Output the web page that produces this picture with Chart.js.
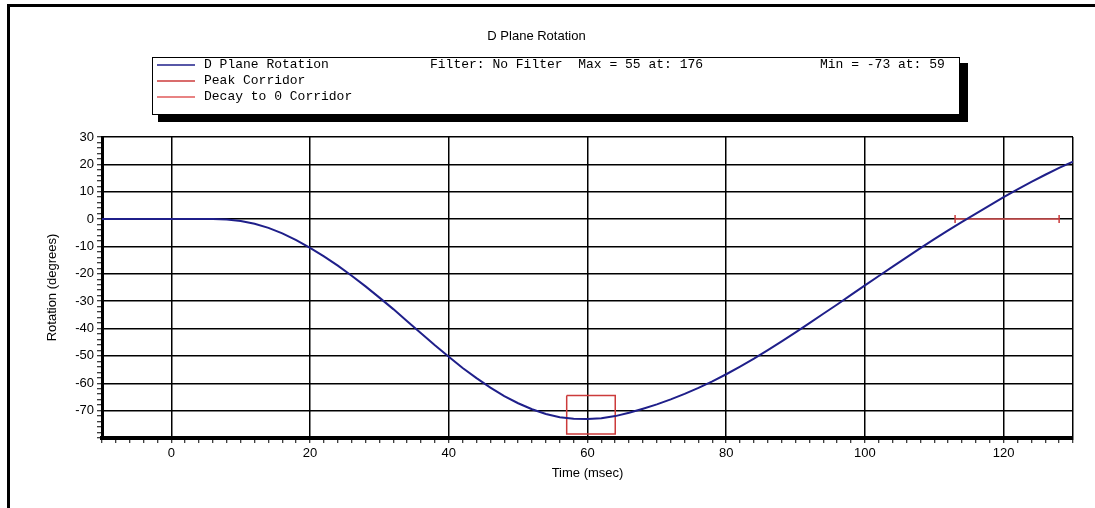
<!DOCTYPE html>
<html lang="en">
<head>
  <meta charset="UTF-8">
  <title>D Plane Rotation</title>
  <script src="https://cdn.jsdelivr.net/npm/chart.js"></script>
  <style>
    html, body { margin: 0; padding: 0; background: #fff; }
  </style>
</head>
<body>

  <canvas id="rotationChart" width="1095" height="508"></canvas>

  <script>
    // D Plane Rotation trace (msec / degrees)
    var timeMs = [-10, 0, 6, 8, 10, 12, 14, 16, 18, 20, 22, 24, 26, 28, 30, 32, 34, 36, 38, 40,
      42, 44, 46, 48, 50, 52, 54, 56, 58, 60, 62, 64, 66, 68, 70, 72, 74, 76, 78, 80,
      82, 84, 86, 88, 90, 92, 94, 96, 98, 100, 102, 104, 106, 108, 110, 112, 114, 116, 118, 120,
      122, 124, 126, 128, 130];
    var rotationDeg = [0, 0, 0, -0.15, -0.7, -1.7, -3.2, -5.2, -7.7, -10.5, -13.6, -17.0, -20.7, -24.6, -28.7, -32.9, -37.3, -41.7, -46.1, -50.3,
      -54.4, -58.1, -61.6, -64.7, -67.3, -69.5, -71.2, -72.4, -73.0, -73.1, -72.8, -72.0, -70.8, -69.3, -67.7, -65.9, -63.9, -61.7, -59.3, -56.7,
      -53.9, -51.0, -47.9, -44.7, -41.4, -38.0, -34.6, -31.2, -27.7, -24.2, -20.8, -17.4, -14.0, -10.6, -7.3, -4.1, -1.0, 2.0, 5.0, 8.0,
      10.9, 13.6, 16.2, 18.7, 21.0];

    // corridors
    var peakCorridorX = [57, 64, 64, 57, 57];
    var peakCorridorY = [-64.5, -64.5, -78.5, -78.5, -64.5];
    var decayCorridorX = [113, 128];
    var decayCorridorY = [0, 0];

    // labelled ticks
    var xTickLabels = [0, 20, 40, 60, 80, 100, 120];
    var yTickLabels = [30, 20, 10, 0, -10, -20, -30, -40, -50, -60, -70];

    // text shown in the legend box
    var seriesNames = ['D Plane Rotation', 'Peak Corridor', 'Decay to 0 Corridor'];
    var legendStats = ['Filter: No Filter  Max = 55 at: 176', 'Min = -73 at: 59'];

    function toPoints(xs, ys) {
      var pts = [];
      for (var i = 0; i < xs.length; i++) {
        pts.push({ x: xs[i], y: ys[i] });
      }
      return pts;
    }

    var sansFont = 'Liberation Sans, Arial, sans-serif';

    var frameAndLegend = {
      id: 'frameAndLegend',
      beforeDraw: function(chart) {
        var ctx = chart.ctx;
        ctx.save();
        ctx.fillStyle = '#fff';
        ctx.fillRect(0, 0, chart.width, chart.height);
        ctx.strokeStyle = '#000';
        ctx.lineWidth = 3;
        ctx.beginPath();
        ctx.moveTo(8.5, chart.height);
        ctx.lineTo(8.5, 5.5);
        ctx.lineTo(chart.width, 5.5);
        ctx.stroke();
        ctx.restore();
      },
      afterDraw: function(chart) {
        var ctx = chart.ctx;
        var sets = chart.data.datasets;
        ctx.save();
        // box with drop shadow
        ctx.fillStyle = '#000';
        ctx.fillRect(158, 63, 810, 59);
        ctx.fillStyle = '#fff';
        ctx.fillRect(152, 57, 808, 58);
        ctx.strokeStyle = '#000';
        ctx.lineWidth = 1;
        ctx.strokeRect(152.5, 57.5, 807, 57);

        var rows = [65, 81, 97];
        ctx.font = '13px "Liberation Mono", monospace';
        ctx.textBaseline = 'middle';
        for (var i = 0; i < sets.length; i++) {
          ctx.strokeStyle = sets[i].borderColor;
          ctx.lineWidth = 1.5;
          ctx.beginPath();
          ctx.moveTo(157, rows[i]);
          ctx.lineTo(195, rows[i]);
          ctx.stroke();
          ctx.fillStyle = '#000';
          ctx.fillText(sets[i].label, 204, rows[i]);
        }
        ctx.fillText(legendStats[0], 430, rows[0]);
        ctx.fillText(legendStats[1], 820, rows[0]);
        ctx.restore();
      }
    };

    var ctx = document.getElementById('rotationChart').getContext('2d');

    new Chart(ctx, {
      type: 'line',
      data: {
        datasets: [
          {
            label: seriesNames[0],
            data: toPoints(timeMs, rotationDeg),
            borderColor: '#1f1f8a',
            borderWidth: 2,
            pointRadius: 0,
            tension: 0
          },
          {
            label: seriesNames[1],
            data: toPoints(peakCorridorX, peakCorridorY),
            borderColor: '#cc3b3b',
            borderWidth: 1.5,
            pointRadius: 0
          },
          {
            label: seriesNames[2],
            data: toPoints(decayCorridorX, decayCorridorY),
            borderColor: '#e05a5a',
            borderWidth: 1.5,
            pointStyle: 'line',
            rotation: 90,
            pointRadius: 4,
            pointBorderColor: '#cc3b3b',
            pointBorderWidth: 1.5
          }
        ]
      },
      options: {
        responsive: false,
        animation: false,
        devicePixelRatio: 1,
        layout: { padding: { left: 0, right: 22, top: 0, bottom: 0 } },
        plugins: {
          legend: { display: false },
          tooltip: { enabled: false },
          title: {
            display: true,
            text: 'D Plane Rotation',
            color: '#000',
            font: { family: sansFont, size: 13, weight: 'normal' },
            padding: { top: 29, bottom: 92.4 }
          }
        },
        scales: {
          x: {
            type: 'linear',
            min: -10,
            max: 130,
            afterFit: function(s) { s.height = 70; },
            border: { color: '#000', width: 4 },
            grid: {
              color: function(c) {
                if (!c.tick) return 'rgba(0,0,0,0)';
                var v = c.tick.value;
                return (xTickLabels.indexOf(v) >= 0 || v === 130) ? '#000' : 'rgba(0,0,0,0)';
              },
              lineWidth: 1.5,
              tickColor: '#000',
              tickWidth: 1,
              tickLength: 5
            },
            ticks: {
              stepSize: 2,
              autoSkip: false,
              maxRotation: 0,
              padding: 3,
              color: '#000',
              font: { family: sansFont, size: 13 },
              callback: function(v) { return xTickLabels.indexOf(v) >= 0 ? String(v) : ''; }
            },
            title: {
              display: true,
              text: 'Time (msec)',
              color: '#000',
              font: { family: sansFont, size: 13 },
              padding: { top: 0, bottom: 27 }
            }
          },
          y: {
            type: 'linear',
            min: -80,
            max: 30,
            afterFit: function(s) { s.width = 102; },
            border: { color: '#000', width: 3 },
            grid: {
              color: function(c) {
                if (!c.tick) return 'rgba(0,0,0,0)';
                return c.tick.value % 10 === 0 ? '#000' : 'rgba(0,0,0,0)';
              },
              lineWidth: 1.5,
              tickColor: '#000',
              tickWidth: 1,
              tickLength: 5
            },
            ticks: {
              stepSize: 2,
              autoSkip: false,
              padding: 3,
              color: '#000',
              font: { family: sansFont, size: 13 },
              callback: function(v) { return yTickLabels.indexOf(v) >= 0 ? String(v) : ''; }
            },
            title: {
              display: true,
              text: 'Rotation (degrees)',
              color: '#000',
              font: { family: sansFont, size: 13 },
              padding: { top: 45, bottom: 0 }
            }
          }
        }
      },
      plugins: [frameAndLegend]
    });
  </script>

</body>
</html>
